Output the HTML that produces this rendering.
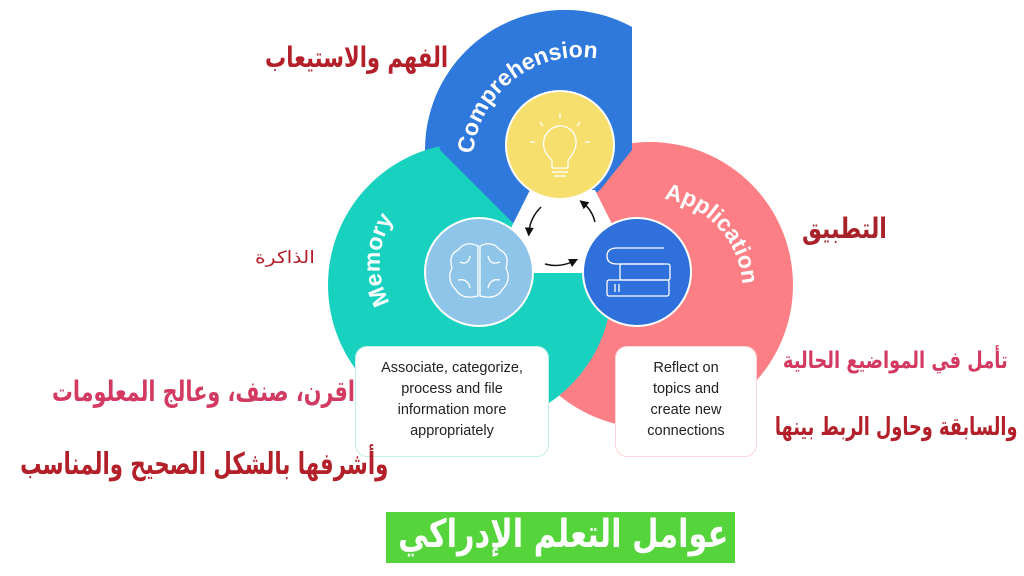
<!DOCTYPE html>
<html><head><meta charset="utf-8"><style>
html,body{margin:0;padding:0;background:#fff;width:1024px;height:576px;overflow:hidden;position:relative}
.ar{position:absolute;font-family:"DejaVu Sans","Liberation Sans",sans-serif;font-weight:bold;direction:rtl;white-space:nowrap;line-height:1;transform-origin:100% 50%}
.box{position:absolute;background:#fff;border-radius:12px;font-family:"Liberation Sans",sans-serif;font-size:14.5px;color:#222;text-align:center;line-height:21px;box-sizing:border-box}
</style></head><body>
<svg width="1024" height="576" style="position:absolute;left:0;top:0">
<defs>
<clipPath id="cb"><rect x="0" y="0" width="632" height="576"/></clipPath>
<clipPath id="cw"><polygon points="420,0 632,0 632,150 600,190 530,240 440,150"/></clipPath>
<path id="pc" d="M473,174 A107,107 0 0 1 662,96" fill="none"/>
<path id="pm" d="M392,306 A80,80 0 0 1 440,186" fill="none"/>
<path id="pa" d="M650,198 A92,92 0 0 1 742,300" fill="none"/>
<marker id="ah" markerWidth="6" markerHeight="6" refX="3" refY="3" orient="auto"><path d="M0,0 L6,3 L0,6 z" fill="#111"/></marker>
</defs>
<circle cx="565" cy="150" r="140" fill="#2f78dc" clip-path="url(#cb)"/>
<circle cx="650" cy="285" r="143" fill="#fb7f85"/>
<circle cx="470" cy="285" r="142" fill="#19d1bf"/>
<circle cx="565" cy="150" r="140" fill="#2f78dc" clip-path="url(#cw)"/>
<polygon points="530,190 595,190 620,240 600,273 520,273 505,240" fill="#fff"/>
<path d="M541,207 Q530,218 529,232" stroke="#111" stroke-width="1.5" fill="none" marker-end="url(#ah)"/>
<path d="M595,222 Q592,210 583,203" stroke="#111" stroke-width="1.5" fill="none" marker-end="url(#ah)"/>
<path d="M545,264 Q560,268 574,261" stroke="#111" stroke-width="1.5" fill="none" marker-end="url(#ah)"/>
<circle cx="560" cy="145" r="54" fill="#f6df6d" stroke="#fff" stroke-width="2"/>
<g stroke="#fff" stroke-width="1.3" fill="none">
<path d="M552,168 L552,160 Q540,150 545,136 Q552,125 562,126 Q574,128 576,140 Q577,150 568,160 L568,168 Z"/>
<line x1="552" y1="172" x2="568" y2="172"/><line x1="554" y1="176" x2="566" y2="176"/>
<line x1="560" y1="113" x2="560" y2="118"/><line x1="540" y1="122" x2="543" y2="126"/><line x1="580" y1="122" x2="577" y2="126"/>
<line x1="530" y1="142" x2="535" y2="142"/><line x1="585" y1="142" x2="590" y2="142"/>
</g>
<circle cx="479" cy="272" r="54" fill="#8ec5e8" stroke="#fff" stroke-width="2"/>
<g stroke="#fff" stroke-width="1.3" fill="none">
<path d="M478,246 Q466,240 458,250 Q448,255 452,268 Q446,280 456,290 Q462,300 478,296 Z"/>
<path d="M480,246 Q492,240 500,250 Q510,255 506,268 Q512,280 502,290 Q496,300 480,296 Z"/>
<path d="M460,262 Q468,266 470,256 M458,280 Q468,278 470,288 M500,262 Q490,266 488,256 M500,280 Q490,278 488,288"/>
</g>
<circle cx="637" cy="272" r="54" fill="#2f70dc" stroke="#fff" stroke-width="2"/>
<g stroke="#fff" stroke-width="1.3" fill="none">
<rect x="607" y="280" width="62" height="16" rx="2"/><rect x="620" y="264" width="50" height="16" rx="2"/>
<path d="M664,248 L617,248 Q607,248 607,256 Q607,264 617,264 L664,264"/>
<line x1="615" y1="284" x2="615" y2="292"/><line x1="619" y1="284" x2="619" y2="292"/>
</g>
<g font-family="Liberation Sans,sans-serif" font-weight="bold" font-size="23" fill="#fff">
<text><textPath href="#pc" startOffset="20">Comprehension</textPath></text>
<text><textPath href="#pm" startOffset="4">Memory</textPath></text>
<text><textPath href="#pa" startOffset="14">Application</textPath></text>
</g>
</svg>
<div class="box" style="left:355px;top:346px;width:194px;height:111px;border:1.5px solid #c4efe8;padding-top:11px">Associate, categorize,<br>process and file<br>information more<br>appropriately</div>
<div class="box" style="left:615px;top:346px;width:142px;height:111px;border:1.5px solid #fbd6d8;padding-top:11px">Reflect on<br>topics and<br>create new<br>connections</div>
<div id="a1" class="ar" style="right:576px;top:44px;font-size:28px;color:#b3202a">الفهم والاستيعاب</div>
<div id="a2" class="ar" style="right:709px;top:250px;font-size:17px;color:#b3202a;font-weight:normal">الذاكرة</div>
<div id="a3" class="ar" style="right:137px;top:215px;font-size:28px;color:#a8222a">التطبيق</div>
<div id="a4" class="ar" style="right:16px;top:350px;font-size:23px;color:#d23a62">تأمل في المواضيع الحالية</div>
<div id="a5" class="ar" style="right:6px;top:414px;font-size:25px;color:#b3202a">والسابقة وحاول الربط بينها</div>
<div id="a6" class="ar" style="right:669px;top:378px;font-size:28px;color:#d23a62">اقرن، صنف، وعالج المعلومات</div>
<div id="a7" class="ar" style="right:636px;top:450px;font-size:30px;color:#b3202a">وأشرفها بالشكل الصحيح والمناسب</div>
<div style="position:absolute;left:386px;top:512px;width:349px;height:51px;background:#55d43b"></div>
<div id="a8" class="ar" style="right:296px;top:515px;font-size:39px;color:#fff">عوامل التعلم الإدراكي</div>
<script>
var t={a1:183,a2:60,a3:85,a4:225,a5:243,a6:303,a7:368,a8:330};
for(var k in t){var e=document.getElementById(k);var w=e.offsetWidth;if(w>0){e.style.transform="scaleX("+(t[k]/w)+")";}}
</script>
</body></html>
